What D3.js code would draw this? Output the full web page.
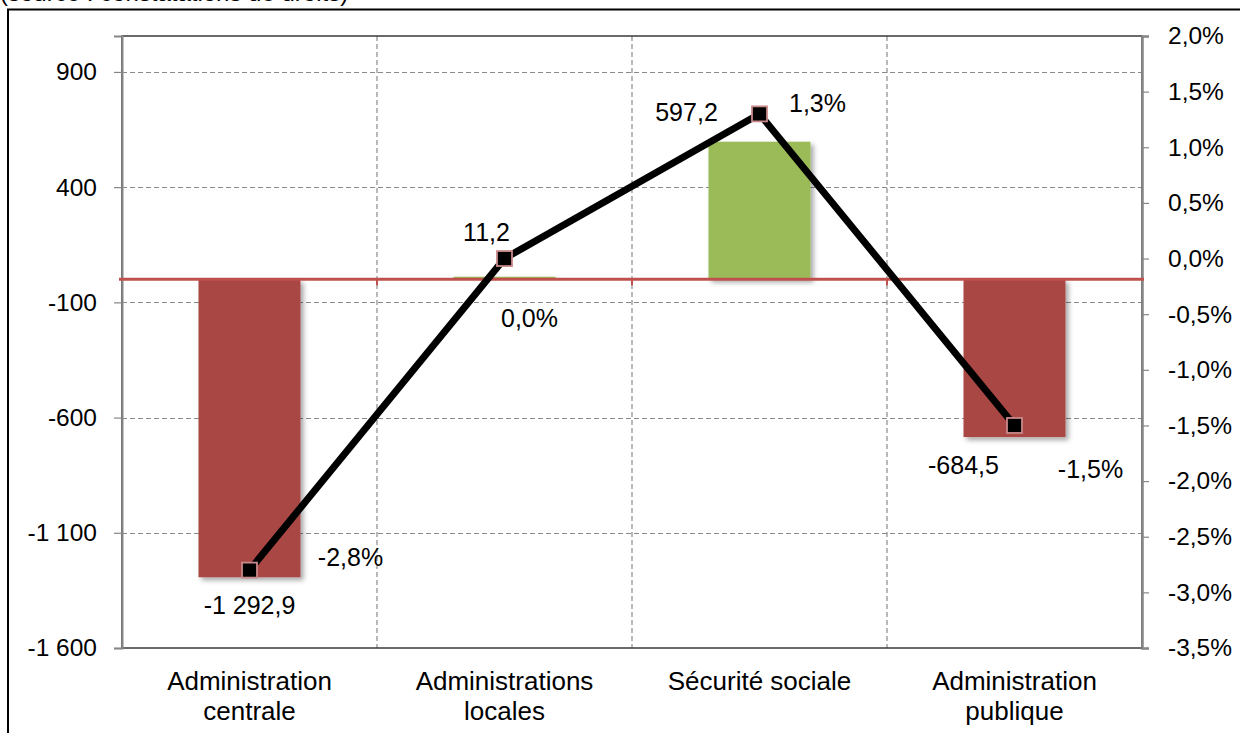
<!DOCTYPE html>
<html><head><meta charset="utf-8">
<script src="https://cdn.jsdelivr.net/npm/d3@7/dist/d3.min.js"></script>
<style>
html,body{margin:0;padding:0;background:#fff;}
svg{display:block;font-family:"Liberation Sans",Arial,sans-serif;}
</style></head>
<body>
<svg id="chart" width="1240" height="733"></svg>
<script>
const categories = [["Administration","centrale"],["Administrations","locales"],["Sécurité sociale"],["Administration","publique"]];
const barValues = [-1292.9, 11.2, 597.2, -684.5];
const barLabels = ["-1 292,9","11,2","597,2","-684,5"];
const pctValues = [-2.8, 0.0, 1.3, -1.5];
const pctLabels = ["-2,8%","0,0%","1,3%","-1,5%"];
const leftTicks = [900, 400, -100, -600, -1100, -1600];
const leftTickLabels = ["900","400","-100","-600","-1 100","-1 600"];
const rightTicks = [2.0,1.5,1.0,0.5,0.0,-0.5,-1.0,-1.5,-2.0,-2.5,-3.0,-3.5];
const rightTickLabels = ["2,0%","1,5%","1,0%","0,5%","0,0%","-0,5%","-1,0%","-1,5%","-2,0%","-2,5%","-3,0%","-3,5%"];
const sourceText = "(source : constatations de droits)";

// label offsets (layout)
const barLabelOffsets = [[0,28],[-18,-44],[-73,-29],[-51,28]];
const pctLabelOffsets = [[101,-13],[25,60],[58,-11],[76,44]];

const svg = d3.select("#chart");
const L = 122, R = 1142, T = 36, B = 648;

const defs = svg.append("defs");
const f = defs.append("filter").attr("id","shadow").attr("x","-20%").attr("y","-20%").attr("width","140%").attr("height","140%");
f.append("feDropShadow").attr("dx",3).attr("dy",3).attr("stdDeviation",2.5).attr("flood-color","#000").attr("flood-opacity",0.35);

const x = d3.scaleBand().domain(d3.range(categories.length)).range([L,R]).paddingInner(0).paddingOuter(0);
const yL = d3.scaleLinear().domain([-1600, 1056]).range([B,T]);
const yR = d3.scaleLinear().domain([-3.5, 2.0]).range([B,T]);

// source text (cut off at top, as in the reference)
svg.append("text").attr("x",0).attr("y",1).attr("font-size",24).attr("fill","#000").text(sourceText);
// outer frame
svg.append("rect").attr("x",8).attr("y",9.5).attr("width",1400).attr("height",900).attr("fill","none").attr("stroke","#000").attr("stroke-width",2);

// gridlines horizontal
svg.append("g").selectAll("line").data(leftTicks.filter(d=>d>-1600)).join("line")
  .attr("x1",L).attr("x2",R).attr("y1",d=>Math.round(yL(d))+0.5).attr("y2",d=>Math.round(yL(d))+0.5)
  .attr("stroke","#8a8a8a").attr("stroke-width",1.2).attr("stroke-dasharray","5,3");
// gridlines vertical at category boundaries
svg.append("g").selectAll("line").data(d3.range(1,categories.length)).join("line")
  .attr("x1",i=>x(i)).attr("x2",i=>x(i)).attr("y1",T).attr("y2",B)
  .attr("stroke","#8a8a8a").attr("stroke-width",1.2).attr("stroke-dasharray","5,3");

// plot border
svg.append("rect").attr("x",L).attr("y",T).attr("width",R-L).attr("height",B-T).attr("fill","none").attr("stroke","#3a3a3a").attr("stroke-width",1.5);

// left axis
const gl = svg.append("g").attr("transform",`translate(${L},0)`)
  .call(d3.axisLeft(yL).tickValues(leftTicks).tickFormat((d,i)=>leftTickLabels[i]).tickSize(8).tickPadding(17));
gl.select(".domain").attr("stroke","#868686").attr("stroke-width",2);
gl.selectAll(".tick line").attr("stroke","#868686").attr("stroke-width",1.2);
gl.selectAll(".tick text").attr("font-size",24.5).attr("fill","#000").attr("font-family","'Liberation Sans',Arial,sans-serif");

// right axis
const gr = svg.append("g").attr("transform",`translate(${R},0)`)
  .call(d3.axisRight(yR).tickValues(rightTicks).tickFormat((d,i)=>rightTickLabels[i]).tickSize(7).tickPadding(19));
gr.select(".domain").attr("stroke","#868686").attr("stroke-width",2.5);
gr.selectAll(".tick line").attr("stroke","#868686").attr("stroke-width",1.2);
gr.selectAll(".tick text").attr("font-size",24.5).attr("fill","#000").attr("font-family","'Liberation Sans',Arial,sans-serif");

// bars
const bw = x.bandwidth()*0.4;
svg.append("g").selectAll("rect").data(barValues).join("rect")
  .attr("x",(d,i)=>x(i)+x.bandwidth()/2-bw/2).attr("width",bw)
  .attr("y",d=>yL(Math.max(0,d))).attr("height",d=>Math.abs(yL(d)-yL(0)))
  .attr("fill",d=>d<0?"#a94644":"#9bbb59").attr("filter","url(#shadow)");

// zero axis line (red)
const y0 = yL(0);
svg.append("line").attr("x1",L-3).attr("x2",R+2).attr("y1",y0).attr("y2",y0).attr("stroke","#c0504d").attr("stroke-width",3);
svg.append("g").selectAll("line").data(d3.range(1,categories.length)).join("line")
  .attr("x1",i=>x(i)).attr("x2",i=>x(i)).attr("y1",y0).attr("y2",y0+6).attr("stroke","#c0504d").attr("stroke-width",2);

// category labels
const cl = svg.append("g").selectAll("text").data(categories).join("text")
  .attr("x",(d,i)=>x(i)+x.bandwidth()/2).attr("y",690).attr("text-anchor","middle").attr("font-size",26).attr("fill","#000");
cl.selectAll("tspan").data(d=>d).join("tspan").attr("x",function(){return this.parentNode.getAttribute("x");})
  .attr("dy",(d,i)=>i===0?0:30).text(d=>d);

// line
const cx = i => x(i)+x.bandwidth()/2;
svg.append("path").datum(pctValues).attr("fill","none").attr("stroke","#000").attr("stroke-width",7).attr("stroke-linejoin","miter")
  .attr("d",d3.line().x((d,i)=>cx(i)).y(d=>yR(d)));
const ms = 15;
svg.append("g").selectAll("rect").data(pctValues).join("rect")
  .attr("x",(d,i)=>cx(i)-ms/2).attr("y",d=>yR(d)-ms/2).attr("width",ms).attr("height",ms)
  .attr("fill","#000").attr("stroke","#c9888a").attr("stroke-width",1.8);

// bar labels
svg.append("g").selectAll("text").data(barValues).join("text")
  .attr("x",(d,i)=>cx(i)+barLabelOffsets[i][0]).attr("y",(d,i)=>yL(d)+barLabelOffsets[i][1])
  .attr("dy","0.35em").attr("text-anchor","middle").attr("font-size",25).attr("fill","#000")
  .text((d,i)=>barLabels[i]);
// pct labels
svg.append("g").selectAll("text").data(pctValues).join("text")
  .attr("x",(d,i)=>cx(i)+pctLabelOffsets[i][0]).attr("y",(d,i)=>yR(d)+pctLabelOffsets[i][1])
  .attr("dy","0.35em").attr("text-anchor","middle").attr("font-size",25).attr("fill","#000")
  .text((d,i)=>pctLabels[i]);
</script>
</body></html>
